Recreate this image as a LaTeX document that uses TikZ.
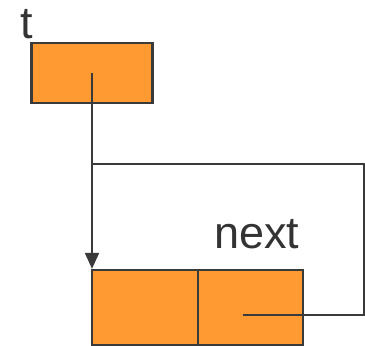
\documentclass[tikz,border=0pt]{standalone}
\usepackage{fontspec}
\setmainfont{Liberation Sans}
\usetikzlibrary{arrows.meta}
\definecolor{cellfill}{HTML}{FF9A33}
\definecolor{ink}{HTML}{3A3A3A}
\definecolor{labelink}{HTML}{333333}
\begin{document}
\begin{tikzpicture}[x=1pt,y=-1pt,
  cell/.style={draw=ink,fill=cellfill,line width=2.3pt,rectangle,inner sep=0pt},
  link/.style={draw=ink,line width=2.1pt},
  label/.style={text=labelink,font=\fontsize{45}{48}\selectfont,inner sep=0pt,anchor=base west}]
\useasboundingbox (0,0) rectangle (365,346);

% pointer variable t
\node[cell,minimum width=121pt,minimum height=60pt] (t) at (92,73) {};
\node[label] (tlabel) at (20,38) {t};

% list node with data and next fields
\node[cell,minimum width=106pt,minimum height=75pt] (data) at (144.7,307.5) {};
\node[cell,minimum width=105.3pt,minimum height=75pt] (nxt) at (250.4,307.5) {};
\node[label] (nextlabel) at (214,248) {next};

% routing points of the next pointer
\coordinate (nstart) at (243,315);
\coordinate (ncorner1) at (364,315);
\coordinate (ncorner2) at (364,164);
\coordinate (njoin) at (92,164);

% t points to the list node
\draw[link,-{Triangle[width=14pt,length=16pt]}] (t.center) -- (t.center |- data.north);

% next points back to the same node
\draw[link] (nstart) -- (ncorner1) -- (ncorner2) -- (njoin);
\end{tikzpicture}
\end{document}
